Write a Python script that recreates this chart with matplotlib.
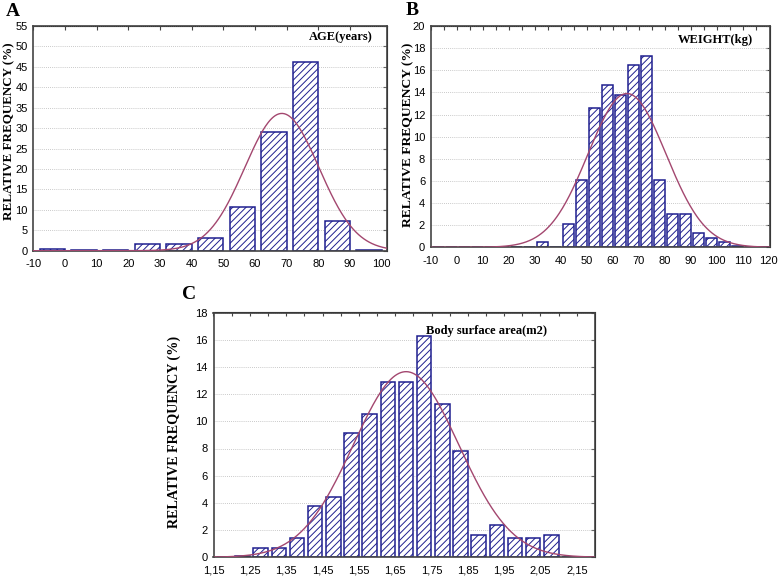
import numpy as np
import matplotlib
matplotlib.use('Agg')
import matplotlib.pyplot as plt
from matplotlib.ticker import FuncFormatter

# --- data ---
# A: age, bins of 10 years (left edges)
age_bins = [-10, 0, 10, 20, 30, 40, 50, 60, 70, 80, 90]
age_freq = [0.4, 0.1, 0.1, 1.6, 1.6, 3.2, 10.8, 29.0, 46.2, 7.2, 0.1]
age_fit = (33.6, 68.5, 11.7)   # peak, mean, sd of the normal curve

# B: weight, bins of 5 kg (left edges)
weight_bins = [-10, -5, 0, 5, 10, 15, 20, 25, 30, 35, 40, 45, 50, 55, 60,
               65, 70, 75, 80, 85, 90, 95, 100, 105, 110, 115]
weight_freq = [0.05, 0.05, 0.05, 0.05, 0.05, 0.05, 0.05, 0.05, 0.45, 0.05,
               2.1, 6.1, 12.6, 14.7, 13.8, 16.5, 17.3, 6.1, 3.0, 3.0, 1.3,
               0.85, 0.45, 0.1, 0.05, 0.05]
weight_fit = (13.9, 65.5, 15.0)

# C: body surface area, bins of 0.05 m2 (left edges)
bsa_bins = [1.15, 1.20, 1.25, 1.30, 1.35, 1.40, 1.45, 1.50, 1.55, 1.60, 1.65,
            1.70, 1.75, 1.80, 1.85, 1.90, 1.95, 2.00, 2.05, 2.10, 2.15]
bsa_freq = [0.05, 0.1, 0.7, 0.7, 1.4, 3.75, 4.45, 9.15, 10.55, 12.9, 12.9,
            16.3, 11.25, 7.85, 1.65, 2.35, 1.4, 1.4, 1.65, 0.05, 0.05]
bsa_fit = (13.65, 1.68, 0.145)

BAR_EDGE = '#1f1f8f'
CURVE = '#a3476f'
SPINE = '#444444'
TICK_FONT = ['Liberation Sans', 'DejaVu Sans']
SERIF = ['Liberation Serif', 'DejaVu Serif']

plt.rcParams['hatch.linewidth'] = 0.7
plt.rcParams['axes.unicode_minus'] = False

fig = plt.figure(figsize=(7.78, 5.79), dpi=100)
W, H = 778.0, 579.0


def px_axes(x0, x1, ytop, ybot):
    return fig.add_axes([x0 / W, 1 - ybot / H, (x1 - x0) / W, (ybot - ytop) / H])


def draw_panel(ax, bins, freq, bw, fit, xlim, ylim, xticks, yticks, title,
               title_xy, ylab_xy, ylab_size, fmt=None):
    left = np.array(bins) + 0.2 * bw
    ax.bar(left, freq, width=0.8 * bw, align='edge', color='white',
           edgecolor=BAR_EDGE, linewidth=1.1, hatch='/////', zorder=2)
    xs = np.linspace(xlim[0], xlim[1], 400)
    peak, mu, sd = fit
    ax.plot(xs, peak * np.exp(-(xs - mu) ** 2 / (2 * sd ** 2)),
            color=CURVE, lw=1.0, zorder=3)
    ax.set_xlim(*xlim)
    ax.set_ylim(*ylim)
    ax.set_xticks(xticks)
    ax.set_yticks(yticks)
    if fmt is not None:
        ax.xaxis.set_major_formatter(FuncFormatter(fmt))
    ax.grid(axis='y', color='#b8b8b8', linestyle=(0, (1, 1.5)), lw=0.6, zorder=0)
    for s in ax.spines.values():
        s.set_color(SPINE)
        s.set_linewidth(1.2)
    ax.tick_params(axis='both', length=0, labelsize=8, colors='black')
    ax.tick_params(axis='x', pad=6)
    ax.tick_params(axis='y', pad=4)
    for lab in ax.get_xticklabels() + ax.get_yticklabels():
        lab.set_family(TICK_FONT)
    # small inward ticks on top and right
    top = ax.secondary_xaxis('top')
    top.set_xticks(bins)
    top.tick_params(direction='in', length=3, color=SPINE, labeltop=False)
    right = ax.secondary_yaxis('right')
    right.set_yticks(yticks)
    right.tick_params(direction='in', length=3, color=SPINE, labelright=False)
    ax.text(title_xy[0], title_xy[1], title, transform=ax.transAxes,
            ha='right', va='center', fontsize=9, fontweight='bold', family=SERIF)
    ax.set_ylabel('RELATIVE FREQUENCY (%)', fontsize=ylab_size,
                  fontweight='bold', family=SERIF, va='center')
    ax.yaxis.set_label_coords(ylab_xy[0], ylab_xy[1])


axA = px_axes(33.3, 387, 26, 250.7)
draw_panel(axA, age_bins, age_freq, 10, age_fit, (-10, 101.7), (0, 55),
           list(range(-10, 101, 10)), list(range(0, 56, 5)), 'AGE(years)',
           (0.958, 0.951), (-0.069, 0.53), 9.4)

axB = px_axes(430.7, 770, 26, 247.3)
draw_panel(axB, weight_bins, weight_freq, 5, weight_fit, (-10, 120.5), (0, 20),
           list(range(-10, 121, 10)), list(range(0, 21, 2)), 'WEIGHT(kg)',
           (0.950, 0.937), (-0.067, 0.507), 9.7)

axC = px_axes(213.5, 595, 312.5, 557.3)
draw_panel(axC, bsa_bins, bsa_freq, 0.05, bsa_fit, (1.15, 2.2), (0, 18),
           [1.15, 1.25, 1.35, 1.45, 1.55, 1.65, 1.75, 1.85, 1.95, 2.05, 2.15],
           list(range(0, 19, 2)), 'Body surface area(m2)',
           (0.874, 0.924), (-0.1035, 0.514), 10.2,
           fmt=lambda v, p: f'{v:.2f}'.replace('.', ','))

for letter, x, y in [('A', 6, 3), ('B', 406, 2), ('C', 182, 286)]:
    fig.text(x / W, 1 - y / H, letter, ha='left', va='top', fontsize=14,
             fontweight='bold', family=SERIF)

fig.savefig('out.png', dpi=100)
